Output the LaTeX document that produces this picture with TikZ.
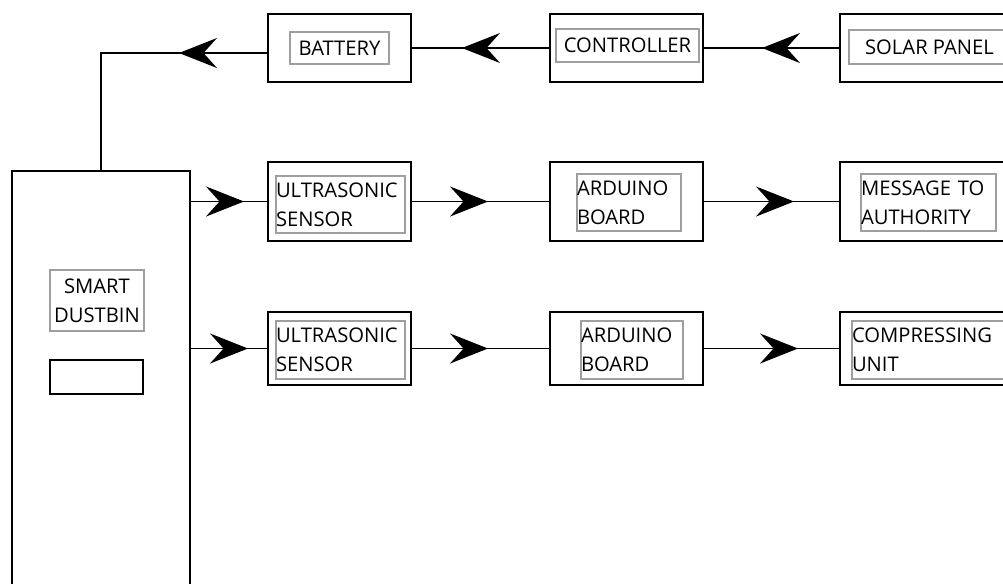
\documentclass[tikz,border=0pt]{standalone}
\usepackage{fontspec}
\setmainfont{Open Sans}
\usetikzlibrary{arrows.meta, decorations.markings}

\begin{document}
\begin{tikzpicture}[x=0.02cm, y=-0.02cm, line width=1.1pt,
  outer/.style={draw, line width=1.2pt, inner sep=0pt},
  label box/.style={draw=gray!75, line width=0.8pt, inner sep=0pt,
    font=\fontsize{11.5}{16.5}\selectfont},
  flow/.style={postaction={decorate}, decoration={markings,
    mark=at position #1 with {\arrow{Stealth[length=0.76cm, width=0.6cm, inset=0.27cm]}}}}]
  \useasboundingbox (0,0) rectangle (1003,583);
  \clip (0,0) rectangle (1003,583);

  % Smart dustbin
  \node[outer, minimum width=3.56cm, minimum height=8.58cm] (bin) at (101,385.5) {};
  \node[label box, align=center, minimum width=1.88cm, minimum height=1.22cm] (binT) at (97,300.5) {SMART\\DUSTBIN};
  \node[outer, line width=1.1pt, minimum width=1.86cm, minimum height=0.68cm] (slot) at (96.5,377) {};

  % Top row (power)
  \node[outer, minimum width=2.86cm, minimum height=1.36cm] (bat) at (339.5,48) {};
  \node[label box, minimum width=1.98cm, minimum height=0.64cm] (batT) at (339.5,48) {BATTERY};
  \node[outer, minimum width=3.06cm, minimum height=1.36cm] (ctrl) at (626.5,48) {};
  \node[label box, minimum width=2.86cm, minimum height=0.66cm] (ctrlT) at (627.5,45.5) {CONTROLLER};
  \node[outer, minimum width=3.4cm, minimum height=1.36cm] (solar) at (925,48) {};
  \node[label box, minimum width=3.22cm, minimum height=0.68cm] (solarT) at (929.5,47) {SOLAR PANEL};

  % Middle row
  \node[outer, minimum width=2.86cm, minimum height=1.58cm] (us1) at (339.5,201.5) {};
  \node[label box, align=left, text width=2.58cm, minimum height=1.14cm] (us1T) at (340.5,204.5) {ULTRASONIC\\SENSOR};
  \node[outer, minimum width=3.06cm, minimum height=1.58cm] (ard1) at (626.5,201.5) {};
  \node[label box, align=left, text width=2.08cm, minimum height=1.14cm] (ard1T) at (629,202.5) {ARDUINO\\BOARD};
  \node[outer, minimum width=3.4cm, minimum height=1.58cm] (msg) at (925,201.5) {};
  \node[label box, align=left, text width=2.7cm, minimum height=1.14cm] (msgT) at (928.5,202.5) {MESSAGE TO\\AUTHORITY};

  % Bottom row
  \node[outer, minimum width=2.86cm, minimum height=1.46cm] (us2) at (339.5,348.5) {};
  \node[label box, align=left, text width=2.58cm, minimum height=1.16cm] (us2T) at (340.5,350) {ULTRASONIC\\SENSOR};
  \node[outer, minimum width=3.06cm, minimum height=1.46cm] (ard2) at (626.5,348.5) {};
  \node[label box, align=left, text width=2.04cm, minimum height=1.16cm] (ard2T) at (632,350) {ARDUINO\\BOARD};
  \node[outer, minimum width=3.4cm, minimum height=1.46cm] (comp) at (925,348.5) {};
  \node[label box, align=left, text width=3.12cm, minimum height=1.16cm] (compT) at (930,350) {COMPRESSING\\UNIT};

  % Connectors
  \draw[flow=1.54cm] (solar.west) -- (ctrl.east);
  \draw[flow=1.74cm] (ctrl.west) -- (bat.east);
  \draw[flow=1.76cm] ([yshift=-0.1cm]bat.west) -| (bin.north);
  \draw[flow=1.06cm] (us1.west -| bin.east) -- (us1.west);
  \draw[flow=1.52cm] (us1.east) -- (ard1.west);
  \draw[flow=1.8cm] (ard1.east) -- (msg.west);
  \draw[flow=1.14cm] (us2.west -| bin.east) -- (us2.west);
  \draw[flow=1.52cm] (us2.east) -- (ard2.west);
  \draw[flow=1.88cm] (ard2.east) -- (comp.west);
\end{tikzpicture}
\end{document}
